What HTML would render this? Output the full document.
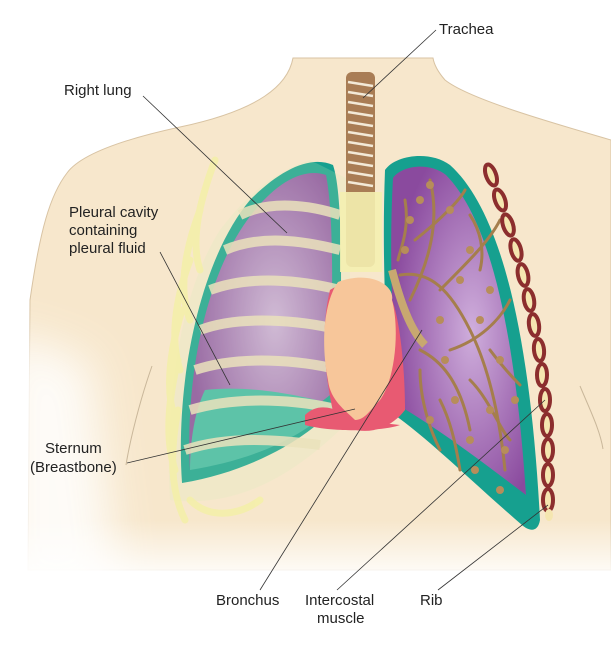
<!DOCTYPE html>
<html><head><meta charset="utf-8"><style>
html,body{margin:0;padding:0;background:#fff;}
svg{display:block;}
text{font-family:"Liberation Sans",sans-serif;font-size:15px;fill:#222;}
</style></head><body>
<svg width="611" height="646" viewBox="0 0 611 646" xmlns="http://www.w3.org/2000/svg">
<defs>
<linearGradient id="fade" x1="0" y1="0" x2="0" y2="1">
<stop offset="0" stop-color="#fff" stop-opacity="0"/>
<stop offset="1" stop-color="#fff" stop-opacity="1"/>
</linearGradient>
<filter id="blur" x="-50%" y="-50%" width="200%" height="200%"><feGaussianBlur stdDeviation="22"/></filter>
<radialGradient id="purp" cx="0.6" cy="0.5" r="0.6">
<stop offset="0" stop-color="#cfaedc"/>
<stop offset="1" stop-color="#8a4a9e"/>
</radialGradient>
</defs>
<!-- torso -->
<path d="M293,58 C288,85 260,110 180,127 C120,140 80,155 67,173 C50,195 40,230 30,300 L28,570 L611,570 L611,140 C560,125 470,100 445,80 C438,72 434,64 433,58 Z" fill="#f7e7cc" stroke="#d8c3a3" stroke-width="1"/>
<path d="M0,330 L90,360 L120,600 L0,600 Z" fill="#fff" opacity="0.85" filter="url(#blur)"/>
<rect x="0" y="520" width="611" height="62" fill="url(#fade)"/>
<rect x="0" y="580" width="611" height="66" fill="#fff"/>
<path d="M152,366 C140,400 130,440 126,465" stroke="#c9b79a" fill="none" stroke-width="1"/>
<path d="M580,386 C590,410 600,430 603,449" stroke="#c9b79a" fill="none" stroke-width="1"/>
<!-- right-side (viewer) lung -->
<path d="M385,170 C395,155 430,150 450,165 C500,210 530,330 540,520 C538,532 530,532 522,525 C470,480 430,440 392,413 C385,330 382,250 385,170 Z" fill="#16a08f"/>
<path d="M393,178 C402,165 430,162 446,175 C490,220 515,330 526,495 C480,460 440,430 398,405 C392,330 389,250 393,178 Z" fill="url(#purp)"/>
<g stroke="#a57e4c" stroke-width="3" fill="none" stroke-linecap="round">
<path d="M400,275 C430,270 450,290 470,330 C490,370 500,420 505,470"/>
<path d="M420,350 C440,360 460,380 470,430"/>
<path d="M410,300 C430,260 440,220 430,180"/>
<path d="M440,290 C470,260 490,240 500,220"/>
<path d="M450,350 C480,340 500,320 510,300"/>
<path d="M420,370 C420,400 430,430 440,450"/>
<path d="M470,380 C490,400 500,430 510,440"/>
<path d="M415,240 C440,220 460,200 465,190"/>
<path d="M405,200 C410,230 400,250 398,260"/>
<path d="M480,270 C485,250 480,230 470,215"/>
<path d="M490,350 C505,370 515,380 520,385"/>
<path d="M440,400 C450,420 455,440 460,470"/>
</g>
<g fill="#b78d5a">
<circle cx="420" cy="200" r="4"/><circle cx="450" cy="210" r="4"/><circle cx="470" cy="250" r="4"/><circle cx="490" cy="290" r="4"/>
<circle cx="440" cy="320" r="4"/><circle cx="480" cy="320" r="4"/><circle cx="500" cy="360" r="4"/><circle cx="455" cy="400" r="4"/>
<circle cx="490" cy="410" r="4"/><circle cx="505" cy="450" r="4"/><circle cx="430" cy="420" r="4"/><circle cx="410" cy="220" r="4"/>
<circle cx="470" cy="440" r="4"/><circle cx="515" cy="400" r="4"/><circle cx="460" cy="280" r="4"/><circle cx="430" cy="185" r="4"/>
<circle cx="475" cy="470" r="4"/><circle cx="445" cy="360" r="4"/><circle cx="500" cy="490" r="4"/><circle cx="405" cy="250" r="4"/>
</g>
<path d="M392,270 C400,300 410,330 425,345" stroke="#c8a870" stroke-width="8" fill="none"/>
<!-- ribs chain -->
<g stroke="#8c2e2e" stroke-width="4" fill="#f5e6b0">
<ellipse cx="491" cy="175" rx="5" ry="11" transform="rotate(-20 491 175)"/>
<ellipse cx="500" cy="200" rx="5" ry="11" transform="rotate(-20 500 200)"/>
<ellipse cx="508" cy="225" rx="5" ry="11" transform="rotate(-18 508 225)"/>
<ellipse cx="516" cy="250" rx="5" ry="11" transform="rotate(-15 516 250)"/>
<ellipse cx="523" cy="275" rx="5" ry="11" transform="rotate(-12 523 275)"/>
<ellipse cx="529" cy="300" rx="5" ry="11" transform="rotate(-10 529 300)"/>
<ellipse cx="534" cy="325" rx="5" ry="11" transform="rotate(-8 534 325)"/>
<ellipse cx="539" cy="350" rx="5" ry="11" transform="rotate(-6 539 350)"/>
<ellipse cx="542" cy="375" rx="5" ry="11"/>
<ellipse cx="545" cy="400" rx="5" ry="11"/>
<ellipse cx="547" cy="425" rx="5" ry="11"/>
<ellipse cx="548" cy="450" rx="5" ry="11"/>
<ellipse cx="548" cy="475" rx="5" ry="11"/>
<ellipse cx="548" cy="500" rx="5" ry="11"/>
</g>
<ellipse cx="549" cy="515" rx="4" ry="6" fill="#f5e6b0"/>
<!-- left lung (viewer) -->
<path d="M182,483 C175,380 200,260 250,200 C280,170 310,155 333,165 C345,200 340,320 340,400 C320,430 260,470 182,483 Z" fill="#16a08f"/>
<path d="M190,470 C185,380 205,270 255,210 C280,180 305,168 326,175 C335,220 332,320 330,395 C300,420 250,445 190,470 Z" fill="url(#purp)"/>
<path d="M190,470 C190,440 195,410 205,390 C250,385 300,395 335,405 C300,440 250,460 190,470 Z" fill="#3fb8a4"/>
<g stroke="#f0dfbd" stroke-width="10" fill="none" opacity="0.85">
<path d="M240,215 C270,200 310,205 340,215"/>
<path d="M225,250 C260,235 300,240 340,250"/>
<path d="M210,290 C250,275 300,280 340,290"/>
<path d="M200,330 C240,315 300,320 340,330"/>
<path d="M195,370 C240,355 300,360 340,370"/>
<path d="M190,410 C240,395 300,400 340,410"/>
<path d="M185,450 C230,435 280,440 320,445"/>
</g>
<path d="M170,500 C165,420 175,300 220,230 C250,190 280,170 310,160 L350,180 L350,420 C310,460 250,510 170,500 Z" fill="#d8f0b8" opacity="0.2"/>
<g stroke="#f4efaa" stroke-width="7" fill="none" opacity="0.9" stroke-linecap="round">
<path d="M215,160 C200,200 190,240 200,270"/>
<path d="M200,210 C185,250 178,290 190,320"/>
<path d="M190,260 C175,300 170,340 180,370"/>
<path d="M182,310 C170,350 165,390 175,420"/>
<path d="M178,360 C168,400 165,440 175,470"/>
<path d="M178,410 C170,450 170,490 185,520"/>
<path d="M190,500 C210,520 240,515 260,500"/>
</g>
<!-- trachea -->
<rect x="346" y="72" width="29" height="195" rx="6" fill="#a97d55"/>
<g stroke="#f3ead8" stroke-width="2.5">
<line x1="348" y1="82" x2="373" y2="86"/><line x1="348" y1="92" x2="373" y2="96"/><line x1="348" y1="102" x2="373" y2="106"/>
<line x1="348" y1="112" x2="373" y2="116"/><line x1="348" y1="122" x2="373" y2="126"/><line x1="348" y1="132" x2="373" y2="136"/>
<line x1="348" y1="142" x2="373" y2="146"/><line x1="348" y1="152" x2="373" y2="156"/><line x1="348" y1="162" x2="373" y2="166"/>
<line x1="348" y1="172" x2="373" y2="176"/><line x1="348" y1="182" x2="373" y2="186"/>
</g>
<rect x="340" y="192" width="42" height="80" fill="#f4efb0" opacity="0.9"/>
<!-- heart -->
<path d="M330,290 C320,330 325,380 335,420 C360,440 390,430 405,410 C405,370 400,320 392,300 C370,285 345,280 330,290 Z" fill="#e85a72"/>
<path d="M338,282 C370,270 395,285 392,300 C400,330 395,380 380,400 C370,410 365,420 355,420 C345,410 330,400 328,380 C320,340 325,300 338,282 Z" fill="#f7c69a"/>
<path d="M305,415 C320,400 340,410 355,420 L400,425 C380,432 330,432 305,425 Z" fill="#e85a72"/>
<!-- leader lines -->
<g stroke="#333" stroke-width="0.8" fill="none">
<line x1="436" y1="30" x2="363" y2="98"/>
<line x1="143" y1="96" x2="287" y2="233"/>
<line x1="160" y1="252" x2="230" y2="385"/>
<line x1="127" y1="463" x2="355" y2="409"/>
<line x1="260" y1="590" x2="422" y2="330"/>
<line x1="337" y1="590" x2="545" y2="400"/>
<line x1="438" y1="590" x2="548" y2="505"/>
</g>
<!-- labels -->
<text x="439" y="34">Trachea</text>
<text x="64" y="95">Right lung</text>
<text x="69" y="217">Pleural cavity</text>
<text x="69" y="235">containing</text>
<text x="69" y="253">pleural fluid</text>
<text x="45" y="453">Sternum</text>
<text x="30" y="472">(Breastbone)</text>
<text x="216" y="605">Bronchus</text>
<text x="305" y="605">Intercostal</text>
<text x="317" y="623">muscle</text>
<text x="420" y="605">Rib</text>
</svg>
</body></html>
